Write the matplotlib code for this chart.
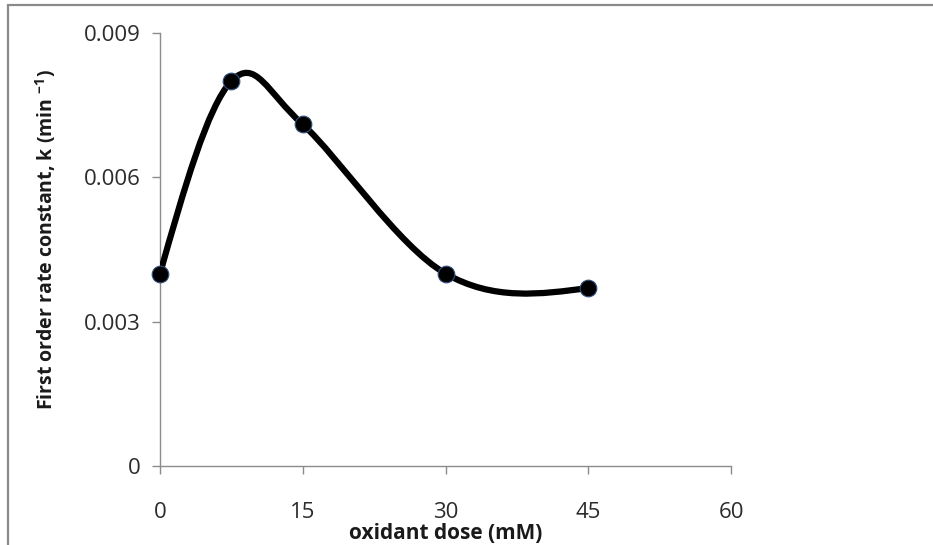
import matplotlib
matplotlib.use("Agg")
import matplotlib.pyplot as plt
import numpy as np
from matplotlib.path import Path
from matplotlib.patches import PathPatch, Rectangle

# data
dose = [0, 7.5, 15, 30, 45]
k_rate = [0.0040, 0.0080, 0.0071, 0.0040, 0.0037]
x_ticks = [0, 15, 30, 45, 60]
y_ticks = [0, 0.003, 0.006, 0.009]
y_tick_labels = ["0", "0.003", "0.006", "0.009"]

plt.rcParams['font.family'] = ['Open Sans', 'DejaVu Sans']
plt.rcParams['mathtext.fontset'] = 'custom'
plt.rcParams['mathtext.rm'] = 'Open Sans'
plt.rcParams['mathtext.bf'] = 'Open Sans:bold'


def smooth_path(xs, ys):
    """Bezier path through the points (Catmull-Rom style, like a spreadsheet smoothed line)"""
    pts = np.column_stack([xs, ys]).astype(float)
    n = len(pts)
    tan = np.zeros_like(pts)
    for i in range(1, n - 1):
        tan[i] = (pts[i + 1] - pts[i - 1]) / 2
    tan[0] = (3 * (pts[1] - pts[0]) - tan[1]) / 2
    tan[-1] = (3 * (pts[-1] - pts[-2]) - tan[-2]) / 2
    verts = [pts[0]]
    codes = [Path.MOVETO]
    for i in range(n - 1):
        verts += [pts[i] + tan[i] / 3, pts[i + 1] - tan[i + 1] / 3, pts[i + 1]]
        codes += [Path.CURVE4] * 3
    return Path(verts, codes)


fig = plt.figure(figsize=(9.33, 5.45), dpi=100)
fig.patch.set_facecolor('white')

# outer chart border (cut off at right and bottom in the reference)
fig.add_artist(Rectangle((8 / 933, -0.2), 1.5, 1.2 - 5 / 545, transform=fig.transFigure,
                         fill=False, ec='#8a8a8a', lw=1.6, clip_on=False))

ax = fig.add_axes([160 / 933, 1 - 466 / 545, (731 - 160) / 933, (466 - 33) / 545])
ax.set_xlim(0, 60)
ax.set_ylim(0, 0.009)

ax.add_patch(PathPatch(smooth_path(dose, k_rate), fill=False, ec='black', lw=4.5,
                       capstyle='round', joinstyle='round', zorder=3))
ax.plot(dose, k_rate, linestyle='none', marker='o', markersize=12,
        markerfacecolor='black', markeredgecolor='#2f4f7f', markeredgewidth=0.8,
        zorder=4, clip_on=False)

for side in ['top', 'right']:
    ax.spines[side].set_visible(False)
for side in ['left', 'bottom']:
    ax.spines[side].set_color('#8c8c8c')
    ax.spines[side].set_linewidth(1.0)

ax.set_xticks(x_ticks)
ax.set_xticklabels([str(t) for t in x_ticks])
ax.set_yticks(y_ticks)
ax.set_yticklabels(y_tick_labels)
ax.tick_params(axis='both', direction='out', length=6, width=1.0, color='#8c8c8c',
               labelsize=16, labelcolor='#2b2b2b')
ax.tick_params(axis='x', pad=20)
ax.tick_params(axis='y', pad=8)

ax.set_xlabel('oxidant dose (mM)', fontsize=15, fontweight='bold', color='#1a1a1a', labelpad=0)
ax.set_ylabel(r'First order rate constant, k (min $^{\mathbf{-1}}$)', fontsize=14,
              fontweight='bold', color='#1a1a1a')
ax.yaxis.set_label_coords(-0.178, 0.522)

fig.savefig('out.png', dpi=100)
